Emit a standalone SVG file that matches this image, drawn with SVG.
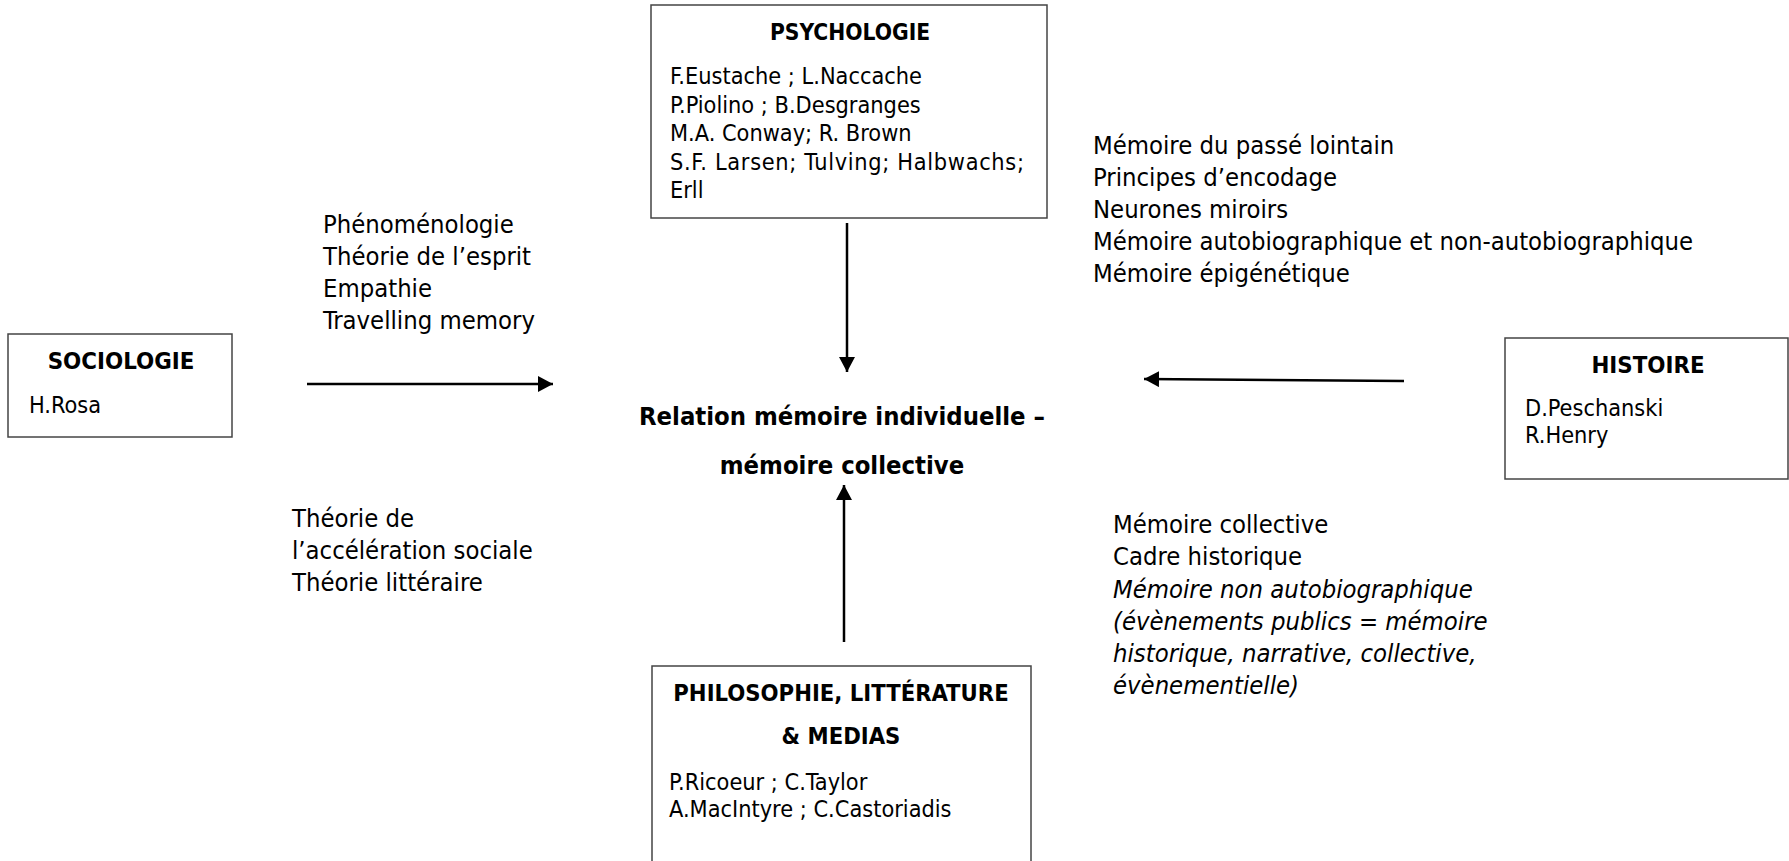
<svg xmlns="http://www.w3.org/2000/svg" width="1789" height="861" viewBox="0 0 1789 861">
<style>
  text { font-family: "DejaVu Sans Condensed", "DejaVu Sans", sans-serif; font-size: 23.3px; fill: #000; }
  .t { font-weight: bold; text-anchor: middle; }
  .f { font-size: 25.4px; }
  .c { font-size: 25.4px; font-weight: bold; text-anchor: middle; }
  .i { font-style: italic; }
  .box { fill: #fff; stroke: #444; stroke-width: 1.5; }
  .con { stroke: #000; stroke-width: 2.5; fill: none; }
</style>
<defs>
  <marker id="arr" markerUnits="userSpaceOnUse" markerWidth="16" markerHeight="18" refX="15" refY="8" orient="auto">
    <path d="M0,0 L15,8 L0,16 Z" fill="#000"/>
  </marker>
</defs>
<rect width="1789" height="861" fill="#fff"/>

<g id="connectors">
  <line class="con" x1="847" y1="223" x2="847" y2="372" marker-end="url(#arr)"/>
  <line class="con" x1="307" y1="384" x2="553" y2="384" marker-end="url(#arr)"/>
  <line class="con" x1="1404" y1="381" x2="1144" y2="379" marker-end="url(#arr)"/>
  <line class="con" x1="844" y1="642" x2="844" y2="485" marker-end="url(#arr)"/>
</g>

<g id="psychologie">
  <rect class="box" x="651" y="5" width="396" height="213"/>
  <text class="t" x="850" y="40" style="font-size:22.6px">PSYCHOLOGIE</text>
  <text x="670" y="84">F.Eustache ; L.Naccache</text>
  <text x="670" y="113">P.Piolino ; B.Desgranges</text>
  <text x="670" y="141">M.A. Conway; R. Brown</text>
  <text x="670" y="170" textLength="354" lengthAdjust="spacing">S.F.  Larsen;  Tulving;  Halbwachs;</text>
  <text x="670" y="198">Erll</text>
</g>

<g id="sociologie">
  <rect class="box" x="8" y="334" width="224" height="103"/>
  <text class="t" x="121" y="369" style="font-size:23.8px">SOCIOLOGIE</text>
  <text x="29" y="413">H.Rosa</text>
</g>

<g id="histoire">
  <rect class="box" x="1505" y="338" width="283" height="141"/>
  <text class="t" x="1648" y="373" style="font-size:23.8px">HISTOIRE</text>
  <text x="1525" y="416">D.Peschanski</text>
  <text x="1525" y="443">R.Henry</text>
</g>

<g id="philosophie">
  <rect class="box" x="652" y="666" width="379" height="220"/>
  <text class="t" x="841" y="701" style="font-size:23.6px">PHILOSOPHIE, LITTÉRATURE</text>
  <text class="t" x="841" y="744" style="font-size:23.6px">&amp; MEDIAS</text>
  <text x="669" y="790">P.Ricoeur ; C.Taylor</text>
  <text x="669" y="817">A.MacIntyre ; C.Castoriadis</text>
</g>

<g id="centre">
  <text class="c" x="842" y="425">Relation mémoire individuelle –</text>
  <text class="c" x="842" y="474">mémoire collective</text>
</g>

<g id="label-sociologie-haut">
  <text class="f" x="323" y="233">Phénoménologie</text>
  <text class="f" x="323" y="265">Théorie de l’esprit</text>
  <text class="f" x="323" y="297">Empathie</text>
  <text class="f" x="323" y="329">Travelling memory</text>
</g>

<g id="label-sociologie-bas">
  <text class="f" x="292" y="527">Théorie de</text>
  <text class="f" x="292" y="559">l’accélération sociale</text>
  <text class="f" x="292" y="591">Théorie littéraire</text>
</g>

<g id="label-histoire-haut">
  <text class="f" x="1093" y="154">Mémoire du passé lointain</text>
  <text class="f" x="1093" y="186">Principes d’encodage</text>
  <text class="f" x="1093" y="218">Neurones miroirs</text>
  <text class="f" x="1093" y="250">Mémoire autobiographique et non-autobiographique</text>
  <text class="f" x="1093" y="282">Mémoire épigénétique</text>
</g>

<g id="label-histoire-bas">
  <text class="f" x="1113" y="533">Mémoire collective</text>
  <text class="f" x="1113" y="565">Cadre historique</text>
  <text class="f i" x="1113" y="598">Mémoire non autobiographique</text>
  <text class="f i" x="1113" y="630">(évènements publics = mémoire</text>
  <text class="f i" x="1113" y="662">historique, narrative, collective,</text>
  <text class="f i" x="1113" y="694">évènementielle)</text>
</g>
</svg>
